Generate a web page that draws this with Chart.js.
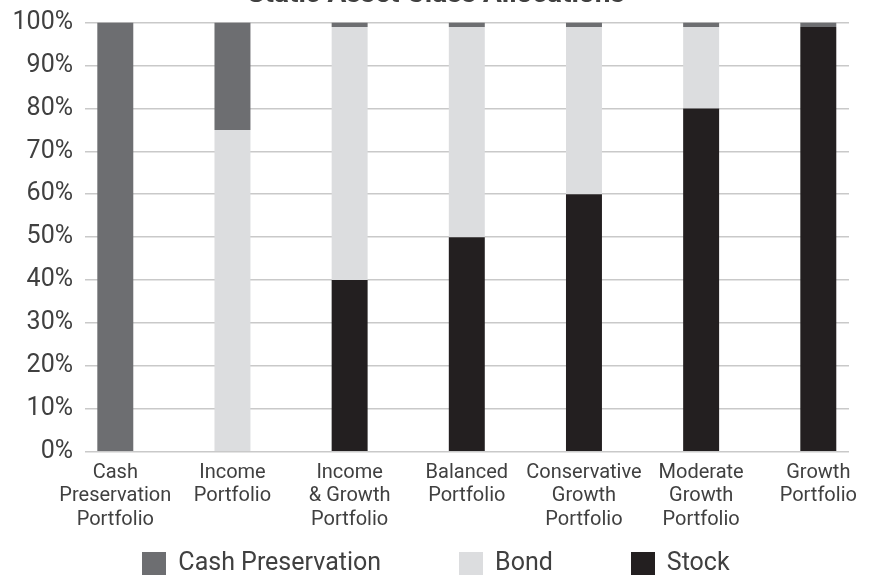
<!DOCTYPE html>
<html>
<head>
<meta charset="utf-8">
<title>Static Asset Class Allocations</title>
<script src="https://cdn.jsdelivr.net/npm/chart.js@4"></script>
<style>
    body { margin: 0; background: #fff; }
    .moldura { position: relative; width: 872px; height: 577px; overflow: hidden; font-family: Roboto, sans-serif; }
    #grafico { position: absolute; left: 0; top: -30px; }
    .legenda { position: absolute; left: 0; top: 549px; width: 872px; display: flex; justify-content: center; align-items: flex-start; }
    .item { display: flex; align-items: flex-start; margin-left: 78px; }
    .item:first-child { margin-left: 0; }
    .caixa { width: 24px; height: 23px; margin-top: 3px; margin-right: 12px; }
    .rotulo { font-size: 25px; line-height: 25px; color: #404040; white-space: nowrap; }
</style>
</head>
<body>
<div class="moldura">
    <canvas id="grafico" width="872" height="607"></canvas>
    <div class="legenda" id="legenda"></div>
</div>
<script>
const categorias = [
    ['Cash', 'Preservation', 'Portfolio'],
    ['Income', 'Portfolio'],
    ['Income', '& Growth', 'Portfolio'],
    ['Balanced', 'Portfolio'],
    ['Conservative', 'Growth', 'Portfolio'],
    ['Moderate', 'Growth', 'Portfolio'],
    ['Growth', 'Portfolio']
];
const cash = [100, 25, 1, 1, 1, 1, 1];
const bond = [0, 75, 59, 49, 39, 19, 0];
const stock = [0, 0, 40, 50, 60, 80, 99];
const ticksY = [0, 10, 20, 30, 40, 50, 60, 70, 80, 90, 100];

const corTexto = '#404040';
Chart.defaults.font.family = 'Roboto';
Chart.defaults.color = corTexto;

function pontos(valores) {
    return valores.map((v, i) => ({ x: i, y: v }));
}

const ctx = document.getElementById('grafico').getContext('2d');

const grafico = new Chart(ctx, {
    type: 'bar',
    data: {
        datasets: [
            { label: 'Stock', data: pontos(stock), backgroundColor: '#231f20' },
            { label: 'Bond', data: pontos(bond), backgroundColor: '#dcdddf' },
            { label: 'Cash Preservation', data: pontos(cash), backgroundColor: '#6d6e71' }
        ]
    },
    options: {
        responsive: false,
        animation: false,
        devicePixelRatio: 1,
        barPercentage: 0.307,
        categoryPercentage: 1,
        layout: {
            padding: 0
        },
        plugins: {
            tooltip: { enabled: false },
            legend: { display: false },
            title: {
                display: true,
                text: 'Static Asset Class Allocations',
                color: corTexto,
                font: { size: 28, weight: 'bold' },
                padding: { top: 8, bottom: 11 }
            }
        },
        scales: {
            x: {
                type: 'linear',
                stacked: true,
                offset: false,
                min: -0.2586,
                max: 6.262,
                grid: { display: false, offset: false },
                border: { display: false },
                afterBuildTicks: scale => {
                    scale.ticks = categorias.map((c, i) => ({ value: i }));
                },
                afterFit: scale => {
                    scale.height = 125.3;
                },
                ticks: {
                    autoSkip: false,
                    maxRotation: 0,
                    minRotation: 0,
                    padding: 1,
                    color: corTexto,
                    font: { size: 20, lineHeight: 1.18 },
                    callback: value => categorias[value]
                }
            },
            y: {
                stacked: true,
                min: 0,
                max: 100,
                afterBuildTicks: scale => {
                    scale.ticks = ticksY.map(v => ({ value: v }));
                },
                afterFit: scale => {
                    scale.width = 85;
                },
                grid: {
                    color: '#c9c9c9',
                    lineWidth: 1.5,
                    drawTicks: false
                },
                border: { display: false },
                ticks: {
                    padding: 12,
                    color: corTexto,
                    font: { size: 25 },
                    callback: value => value + '%'
                }
            },
            direita: {
                position: 'right',
                grid: { display: false },
                border: { display: false },
                ticks: { display: false },
                afterFit: scale => {
                    scale.width = 23;
                }
            }
        }
    }
});

// legenda em html, na mesma ordem do original
const legenda = document.getElementById('legenda');
grafico.data.datasets.slice().reverse().forEach(ds => {
    const item = document.createElement('div');
    item.classList.add('item');

    const caixa = document.createElement('span');
    caixa.classList.add('caixa');
    caixa.style.background = ds.backgroundColor;

    const rotulo = document.createElement('span');
    rotulo.classList.add('rotulo');
    rotulo.textContent = ds.label;

    item.appendChild(caixa);
    item.appendChild(rotulo);
    legenda.appendChild(item);
});
</script>
</body>
</html>
